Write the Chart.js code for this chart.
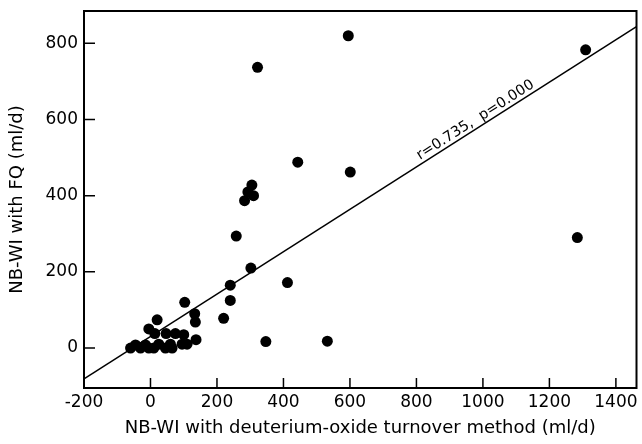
<!DOCTYPE html>
<html>
<head>
<meta charset="utf-8">
<script src="https://cdn.jsdelivr.net/npm/chart.js@4.4.1/dist/chart.umd.min.js"></script>
<style>
  html, body { margin: 0; padding: 0; background: #fff; }
  #wrap { width: 642px; height: 444px; }
</style>
</head>
<body>
<div id="wrap"><canvas id="chart" width="642" height="444"></canvas></div>
<script>
const xValues = [-60, -45, -30, -15, -5, -5, 10, 13, 20, 25, 45, 47, 60, 65, 75, 95, 100, 103, 110, 133, 135, 137,
  220, 240, 240, 258, 283, 293, 305, 310, 302, 322, 347, 412, 443, 532, 595, 601, 1284, 1309];
const yValues = [0, 8, 0, 8, 0, 50, 0, 38, 74, 10, 0, 38, 10, 0, 38, 10, 35, 120, 10, 90, 68, 22,
  78, 125, 165, 294, 387, 410, 428, 400, 210, 737, 17, 172, 488, 18, 820, 462, 290, 783];

// Regression line endpoints
const fitX = [-200, 1462];
const fitY = [-81, 844];
const fitLabel = 'r=0.735,  p=0.000';
const fitLabelX = 990;

const xTicks = [-200, 0, 200, 400, 600, 800, 1000, 1200, 1400];
const yTicks = [0, 200, 400, 600, 800];

const FONT = 'DejaVu Sans';

// Frame round the plot area plus inward tick marks
const framePlugin = {
  id: 'frame',
  afterDatasetsDraw(chart) {
    const { ctx, chartArea: a, scales } = chart;
    ctx.save();
    ctx.strokeStyle = '#000';
    ctx.lineWidth = 2;
    ctx.strokeRect(a.left, a.top, a.right - a.left, a.bottom - a.top);
    ctx.lineWidth = 1.5;
    ctx.beginPath();
    xTicks.forEach(v => {
      const px = scales.x.getPixelForValue(v);
      ctx.moveTo(px, a.bottom);
      ctx.lineTo(px, a.bottom - 10);
    });
    yTicks.forEach(v => {
      const py = scales.y.getPixelForValue(v);
      ctx.moveTo(a.left, py);
      ctx.lineTo(a.left + 11, py);
    });
    ctx.stroke();

    // label along the fit line
    const x1 = scales.x.getPixelForValue(fitX[0]), y1 = scales.y.getPixelForValue(fitY[0]);
    const x2 = scales.x.getPixelForValue(fitX[1]), y2 = scales.y.getPixelForValue(fitY[1]);
    const angle = Math.atan2(y2 - y1, x2 - x1);
    const t = (fitLabelX - fitX[0]) / (fitX[1] - fitX[0]);
    ctx.translate(x1 + (x2 - x1) * t, y1 + (y2 - y1) * t);
    ctx.rotate(angle);
    ctx.fillStyle = '#000';
    ctx.font = '14.5px "' + FONT + '"';
    ctx.textAlign = 'center';
    ctx.textBaseline = 'alphabetic';
    ctx.fillText(fitLabel, 0, -4);
    ctx.restore();
  }
};

new Chart(document.getElementById('chart'), {
  type: 'scatter',
  data: {
    datasets: [
      {
        data: xValues.map((x, i) => ({ x, y: yValues[i] })),
        backgroundColor: '#000',
        borderWidth: 0,
        pointRadius: 5.5
      },
      {
        type: 'line',
        data: fitX.map((x, i) => ({ x, y: fitY[i] })),
        borderColor: '#000',
        borderWidth: 1.5,
        pointRadius: 0,
        fill: false
      }
    ]
  },
  options: {
    responsive: false,
    animation: false,
    events: [],
    layout: { padding: { top: 11, right: -3, left: 0, bottom: 0 } },
    plugins: { legend: { display: false }, tooltip: { enabled: false } },
    scales: {
      x: {
        type: 'linear',
        min: -200,
        max: 1462,
        grid: { display: false, drawTicks: false },
        border: { display: false },
        afterBuildTicks: s => { s.ticks = xTicks.map(v => ({ value: v })); },
        afterFit: s => { s.height = 56; s.paddingLeft = 0; s.paddingRight = 0; },
        ticks: { color: '#000', padding: 4, maxRotation: 0, font: { family: FONT, size: 17 },
          callback: v => String(v) },
        title: {
          display: true,
          text: 'NB-WI with deuterium-oxide turnover method (ml/d)',
          color: '#000',
          font: { family: FONT, size: 18 },
          padding: { top: 0, bottom: 5 }
        }
      },
      y: {
        type: 'linear',
        min: -105,
        max: 885,
        grid: { display: false, drawTicks: false },
        border: { display: false },
        afterBuildTicks: s => { s.ticks = yTicks.map(v => ({ value: v })); },
        afterFit: s => { s.width = 84; s.paddingTop = 0; s.paddingBottom = 0; },
        ticks: { color: '#000', padding: 6, font: { family: FONT, size: 17 },
          callback: v => String(v) },
        title: {
          display: true,
          text: 'NB-WI with FQ (ml/d)',
          color: '#000',
          font: { family: FONT, size: 18 },
          padding: { top: 7, bottom: 0 }
        }
      }
    }
  },
  plugins: [framePlugin]
});
</script>
</body>
</html>
